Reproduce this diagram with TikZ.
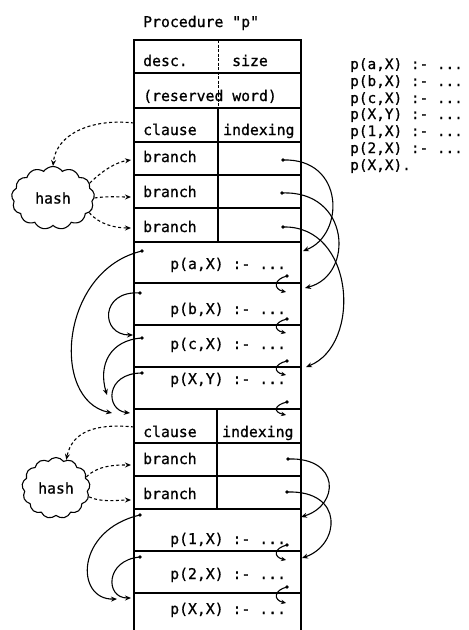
\documentclass[tikz,border=0pt]{standalone}
\usepackage{fontspec}
\newfontfamily\monofont[FakeBold=0.8]{DejaVu Sans Mono}
\usetikzlibrary{arrows.meta,shapes.symbols}

\tikzset{
  mono/.style={font=\monofont\fontsize{14.8}{16}\selectfont},
  txt/.style={mono, inner sep=0pt, anchor=base west},
  srctxt/.style={txt, font=\monofont\fontsize{14.4}{16}\selectfont},
  rule/.style={line width=1.4pt},
  thinrule/.style={line width=0.8pt, dash pattern=on 3pt off 1.5pt},
  link/.style={line width=1.1pt, -{Stealth[length=6pt,width=5pt]}},
  hook/.style={line width=1.1pt, -{Stealth[length=5pt,width=4.5pt]}},
  hashlink/.style={link, dash pattern=on 3pt off 2.5pt},
  ptr/.style={fill, circle, inner sep=0pt, minimum size=3.8pt},
  hashcloud/.style={draw, cloud, cloud puffs=13, cloud puff arc=110, line width=1.1pt,
    inner sep=0pt, mono},
}

\begin{document}
\begin{tikzpicture}[x=1pt, y=-1pt]
\useasboundingbox (0,0) rectangle (469,630);

% ---------- procedure table ----------
\draw[rule] (134,630) -- (134,40) -- (301,40) -- (301,630);
\foreach \y in {73,108,142,175,208,242,283,325,367,409,443,476,509,551,593}
  \draw[rule] (134,\y) -- (301,\y);
\draw[thinrule] (218,40) -- (218,108);
\draw[rule] (218,108) -- (218,242);
\draw[rule] (217,409) -- (217,509);

% ---------- texts ----------
\node[txt] (title) at (143,27) {Procedure "p"};
\node[txt] (desc) at (143,66) {desc.};
\node[txt] (size) at (232,66) {size};
\node[txt] (resv) at (143,101) {(reserved word)};
\node[txt] (clauseA) at (143,135) {clause};
\node[txt] (indexA) at (223,135) {indexing};
\node[txt] (brA1) at (143,162) {branch};
\node[txt] (brA2) at (143,197) {branch};
\node[txt] (brA3) at (143,232) {branch};
\node[txt] (cla) at (170,269) {p(a,X) :- ...};
\node[txt] (clb) at (170,314) {p(b,X) :- ...};
\node[txt] (clc) at (170,349) {p(c,X) :- ...};
\node[txt] (clxy) at (170,384) {p(X,Y) :- ...};
\node[txt] (clauseB) at (143,437) {clause};
\node[txt] (indexB) at (222,437) {indexing};
\node[txt] (brB1) at (143,464) {branch};
\node[txt] (brB2) at (143,499) {branch};
\node[txt] (cl1) at (170,544) {p(1,X) :- ...};
\node[txt] (cl2) at (170,579) {p(2,X) :- ...};
\node[txt] (clxx) at (170,614) {p(X,X) :- ...};

% ---------- source listing ----------
\node[srctxt] (src1) at (350,69) {p(a,X) :- ...};
\node[srctxt] (src2) at (350,86) {p(b,X) :- ...};
\node[srctxt] (src3) at (350,103) {p(c,X) :- ...};
\node[srctxt] (src4) at (350,119) {p(X,Y) :- ...};
\node[srctxt] (src5) at (350,136) {p(1,X) :- ...};
\node[srctxt] (src6) at (350,153) {p(2,X) :- ...};
\node[srctxt] (src7) at (350,170) {p(X,X).};

% ---------- hash tables ----------
\node[hashcloud, minimum width=83pt, minimum height=63pt] (hashA) at (53,198) {hash};
\node[hashcloud, minimum width=68pt, minimum height=61pt] (hashB) at (56,488) {hash};

% ---------- pointer origins ----------
\node[ptr] (dRA1) at (283,160) {};
\node[ptr] (dRA2) at (282,193) {};
\node[ptr] (dRA3) at (283,227) {};
\node[ptr] (dRB1) at (288,459) {};
\node[ptr] (dRB2) at (287,492) {};
\node[ptr] (dLa) at (142,251) {};
\node[ptr] (dLb) at (140,293) {};
\node[ptr] (dLc) at (142,338) {};
\node[ptr] (dLd) at (142,373) {};
\node[ptr] (dL1) at (140,515) {};
\node[ptr] (dL2) at (140,557) {};

% ---------- pointer targets ----------
\coordinate (tPa) at (303,251);
\coordinate (tPb) at (305,288);
\coordinate (tPxy) at (306,367);
\coordinate (tP1) at (301,517);
\coordinate (tP2) at (302,558);
\coordinate (tLa) at (112,413);
\coordinate (tLb) at (133,335);
\coordinate (tLc) at (107,395);
\coordinate (tLd) at (130,413);
\coordinate (tL1) at (117,599);
\coordinate (tL2) at (131,598);
\coordinate (cA) at (134,123);
\coordinate (cB) at (134,427);
\coordinate (eA1) at (131,160);
\coordinate (eA2) at (131,197);
\coordinate (eA3) at (131,228);
\coordinate (eB1) at (131,465);
\coordinate (eB2) at (131,500);

% ---------- branch pointers into the clauses ----------
\draw[link] (dRA1.center) .. controls (345,158) and (345,235) .. (tPa);
\draw[link] (dRA2.center) .. controls (350,190) and (355,275) .. (tPb);
\draw[link] (dRA3.center) .. controls (355,225) and (362,345) .. (tPxy);
\draw[link] (dRB1.center) .. controls (340,457) and (340,505) .. (tP1);
\draw[link] (dRB2.center) .. controls (345,490) and (340,545) .. (tP2);

% ---------- clause chaining on the left ----------
\draw[link] (dLa.center) .. controls (60,270) and (50,400) .. (tLa);
\draw[link] (dLb.center) .. controls (100,290) and (100,335) .. (tLb);
\draw[link] (dLc.center) .. controls (110,340) and (98,365) .. (tLc);
\draw[link] (dLd.center) .. controls (105,373) and (105,410) .. (tLd);
\draw[link] (dL1.center) .. controls (75,530) and (75,600) .. (tL1);
\draw[link] (dL2.center) .. controls (105,560) and (105,598) .. (tL2);

% ---------- small hooks at the clause ends ----------
\foreach \dy/\ty [count=\i] in {276/292, 319/333, 361/375, 402/415, 545/560, 587/603}{
  \node[ptr] (dH\i) at (287,\dy) {};
  \coordinate (tH\i) at (286,\ty);
  \draw[hook] (dH\i.center) .. controls +(-13,3) and +(-13,-3) .. (tH\i);
}

% ---------- hash links ----------
\draw[hashlink] (cA) .. controls (90,118) and (56,135) .. (hashA.north);
\draw[hashlink] (hashA.22) .. controls +(12,-12) and +(-15,2) .. (eA1);
\draw[hashlink] (hashA.east) .. controls +(12,-2) and +(-12,0) .. (eA2);
\draw[hashlink] (hashA.-22) .. controls +(10,12) and +(-15,0) .. (eA3);
\draw[hashlink] (cB) .. controls (95,423) and (72,432) .. (hashB.70);
\draw[hashlink] (hashB.20) .. controls +(12,-12) and +(-15,0) .. (eB1);
\draw[hashlink] (hashB.-15) .. controls +(12,6) and +(-12,0) .. (eB2);
\end{tikzpicture}
\end{document}
